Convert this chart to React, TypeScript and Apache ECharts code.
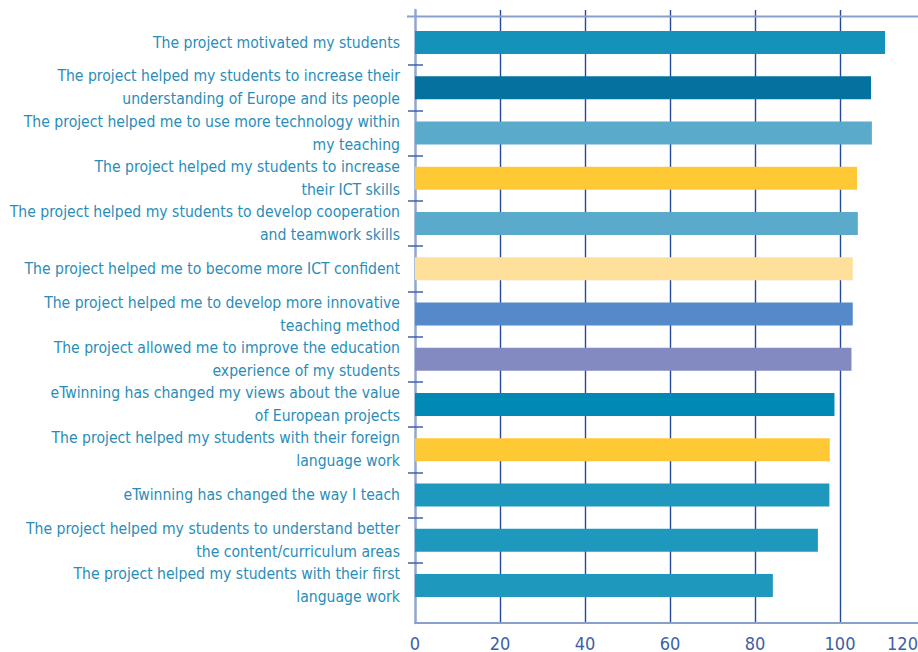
import React, { useEffect, useRef } from "react";
import * as echarts from "echarts";

const categories: string[] = [
  "The project motivated my students",
  "The project helped my students to increase their\nunderstanding of Europe and its people",
  "The project helped me to use more technology within\nmy teaching",
  "The project helped my students to increase\ntheir ICT skills",
  "The project helped my students to develop cooperation\nand teamwork skills",
  "The project helped me to become more ICT confident",
  "The project helped me to develop more innovative\nteaching method",
  "The project allowed me to improve the education\nexperience of my students",
  "eTwinning has changed my views about the value\nof European projects",
  "The project helped my students with their foreign\nlanguage work",
  "eTwinning has changed the way I teach",
  "The project helped my students to understand better\nthe content/curriculum areas",
  "The project helped my students with their first\nlanguage work",
];

const values: number[] = [110.6, 107.3, 107.5, 104.0, 104.2, 103.0, 103.0, 102.7, 98.7, 97.6, 97.5, 94.8, 84.2];

const barColors: string[] = [
  "#1492BA", "#03729F", "#59AACB", "#FFC935", "#59AACB", "#FFE09B", "#558ACA",
  "#838AC2", "#0089B4", "#FFC935", "#1F98BE", "#1F98BE", "#1F98BE",
];

const xTicks = { min: 0, max: 120, interval: 20 };
const bandTickValues: number[] = [1, 2, 3, 4, 5, 6, 7, 8, 9, 10, 11, 12];

export default function App() {
  const ref = useRef<HTMLDivElement>(null);
  useEffect(() => {
    if (!ref.current) return;
    const chart = echarts.init(ref.current, null, { renderer: "svg" });
    const font = "'DejaVu Sans Condensed', sans-serif";
    chart.setOption({
      animation: false,
      backgroundColor: "#ffffff",
      grid: [
        { left: 415, right: -7, top: 10, bottom: 29, outerBoundsMode: "none", containLabel: false },
        { left: 415, right: -7, top: 20, bottom: 44, outerBoundsMode: "none", containLabel: false },
      ],
      xAxis: [
        {
          gridIndex: 0,
          type: "value",
          min: xTicks.min,
          max: xTicks.max,
          interval: xTicks.interval,
          axisLine: { show: true, lineStyle: { color: "#8A9FCC", width: 2 } },
          axisTick: { show: false },
          axisLabel: {
            color: "#3D5FA6",
            fontSize: 18,
            fontFamily: font,
            margin: 11,
            formatter: (v: number) => (v === xTicks.max ? "{m|" + v + "}" : String(v)),
            rich: { m: { color: "#3D5FA6", fontSize: 18, fontFamily: font, padding: [0, 45, 0, 0] } },
          },
          splitLine: { show: true, showMinLine: false, lineStyle: { color: "#24489A", width: 1.4 } },
        },
        {
          gridIndex: 1,
          type: "value",
          min: xTicks.min,
          max: xTicks.max,
          show: false,
        },
      ],
      yAxis: [
        {
          gridIndex: 0,
          type: "value",
          axisLine: { show: true, lineStyle: { color: "#8FA6D4", width: 2.5 } },
          axisTick: { show: false },
          axisLabel: { show: false },
          splitLine: { show: false },
        },
        {
          gridIndex: 1,
          type: "category",
          inverse: true,
          data: categories,
          offset: 7,
          axisLine: { show: false },
          axisTick: { show: false },
          axisLabel: {
            color: "#2A8DB7",
            fontSize: 15.6,
            lineHeight: 23,
            fontFamily: font,
            margin: 8,
            interval: 0,
            padding: [0, 0, 5, 0],
          },
        },
        {
          gridIndex: 1,
          type: "value",
          min: 0,
          max: categories.length,
          interval: 1,
          inverse: true,
          position: "left",
          offset: 7,
          axisLine: { show: false },
          axisLabel: { show: false },
          splitLine: { show: false },
          axisTick: {
            show: true,
            inside: true,
            length: 15,
            customValues: bandTickValues,
            lineStyle: { color: "#3E62AE", width: 1.5 },
          },
        },
      ],
      graphic: [
        {
          type: "line",
          shape: { x1: 407, y1: 16.5, x2: 918, y2: 16.5 },
          style: { stroke: "#8A9FCC", lineWidth: 2 },
          z: 10,
        },
      ],
      series: [
        {
          type: "bar",
          xAxisIndex: 1,
          yAxisIndex: 1,
          barWidth: 23,
          data: values.map((v, i) => ({ value: v, itemStyle: { color: barColors[i] } })),
        },
      ],
    });
    return () => chart.dispose();
  }, []);
  return <div ref={ref} style={{ width: 918, height: 652, position: "fixed", left: 0, top: 0 }} />;
}
